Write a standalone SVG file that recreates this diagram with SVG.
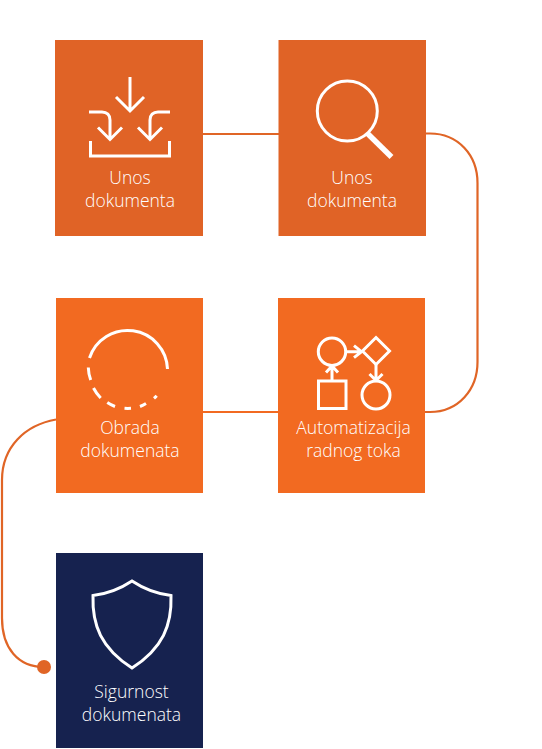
<svg xmlns="http://www.w3.org/2000/svg" width="542" height="749" viewBox="0 0 542 749">
<style>
.ln{fill:none;stroke:#e06526;stroke-width:2.200}
.ic{fill:none;stroke:#fff;stroke-width:3}
text{font-family:"Open Sans","Liberation Sans",sans-serif;font-weight:300;font-size:17.500px;fill:#fff;text-anchor:middle}
</style>
<rect width="542" height="749" fill="#fff"/>
<g id="connectors">
<path class="ln" d="M203 134H279"/>
<path class="ln" d="M426 133.500H430C458 133.500 477.500 155 477.500 183V362C477.500 390 458 412 430 412H425"/>
<path class="ln" d="M203 412H278" style="stroke:#f26a21"/>
<path class="ln" d="M56 419.500C25 425 2 447 2 480V618C2 648 18 667 44 667"/>
<circle cx="44" cy="667" r="7" fill="#e06526"/>
</g>
<g id="node-unos-1">
<rect x="55" y="40" width="148" height="196" fill="#e06326"/>
<path class="ic" d="M130 77V110M116 97L130 111L144 97M89 112H102C107 112 110 115 110 120V139M98 127.500L110 139.500L122 127.500M170 112H158C153 112 150 115 150 120V139M138 127.500L150 139.500L162 127.500M90.500 141V156H169.500V141"/>
<text x="130" y="184">Unos</text><text x="130" y="207">dokumenta</text>
</g>
<g id="node-unos-2">
<rect x="278.500" y="40" width="147.500" height="196" fill="#e06326"/>
<circle class="ic" cx="347.300" cy="111" r="30"/>
<path d="M367 133L391.500 157" fill="none" stroke="#fff" stroke-width="5.500"/>
<text x="352" y="184">Unos</text><text x="352" y="207">dokumenta</text>
</g>
<g id="node-automatizacija">
<rect x="278" y="298" width="147" height="195" fill="#f26a21"/>
<g class="ic">
<circle cx="332" cy="351.700" r="13.700"/>
<path d="M346 351.700H361M354 345.700L361.500 351.700L354 357.700"/>
<path d="M376 337.500L389.500 351L376 364.500L362.500 351Z"/>
<path d="M376 364.500V380.500M369.500 374L376 380.500L382.500 374"/>
<circle cx="376" cy="395" r="14"/>
<rect x="318.500" y="381" width="27.500" height="27.500"/>
<path d="M332 381V366M326 372.500L332 366L338 372.500"/>
</g>
<text x="353.500" y="434">Automatizacija</text><text x="353.500" y="456.700">radnog toka</text>
</g>
<g id="node-obrada">
<rect x="56" y="298" width="147" height="195" fill="#f26a21"/>
<g class="ic">
<path d="M167.500 369A40 40 0 0 0 89.500 358"/>
<path d="M88.300 367.500A40 40 0 0 0 90.700 380"/>
<path d="M93.500 388A40 40 0 0 0 100.700 398"/>
<path d="M107.300 402.500A40 40 0 0 0 115 406.500"/>
<path d="M124.500 408.300A40 40 0 0 0 131 408.300"/>
<path d="M140 406.500A40 40 0 0 0 146 403.500"/>
<path d="M154 398.300A40 40 0 0 0 156.700 395.700"/>
</g>
<text x="130" y="434">Obrada</text><text x="130" y="456.700">dokumenata</text>
</g>
<g id="node-sigurnost">
<rect x="56" y="553" width="147" height="195" fill="#16224f"/>
<path class="ic" d="M132 581C120 589 106 594 93 595.500C92 625 101 648 132 668C163 648 172 625 171 595.500C158 594 144 589 132 581Z"/>
<text x="131.500" y="698">Sigurnost</text><text x="131.500" y="720.700">dokumenata</text>
</g>
</svg>
